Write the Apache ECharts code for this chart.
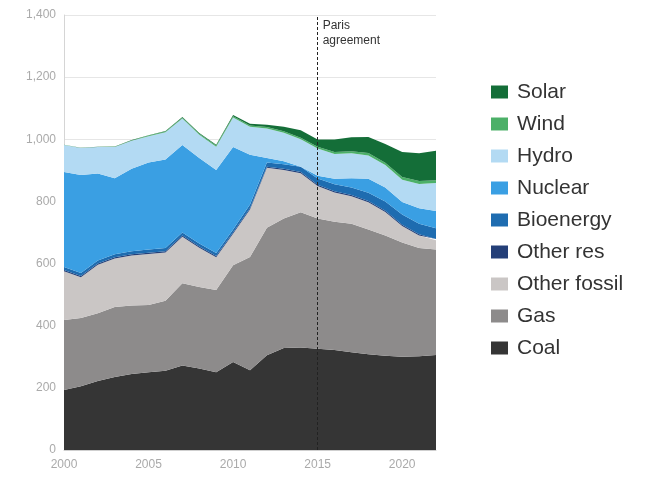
<!DOCTYPE html>
<html>
<head>
<meta charset="utf-8">
<script src="https://cdn.jsdelivr.net/npm/echarts@6/dist/echarts.min.js"></script>
<style>
html,body{margin:0;padding:0;background:#fff;}
#chart{width:648px;height:478px;}
</style>
</head>
<body>
<div id="chart"></div>
<script>
const years = ['2000','2001','2002','2003','2004','2005','2006','2007','2008','2009','2010','2011','2012','2013','2014','2015','2016','2017','2018','2019','2020','2021','2022'];
const coal        = [193,205,222,235,245,250,255,272,262,250,283,257,305,328,330,326,322,315,308,303,300,302,306];
const gas         = [225,220,218,225,220,217,225,265,263,265,312,364,410,417,435,419,413,413,402,387,368,348,339];
const otherFossil = [157,131,156,156,161,164,156,149,126,105,101,153,193,156,126,105,94,89,87,76,53,40,30];
const otherRes    = [4,4,4,4,4,4,4,4,4,4,4,4,4,4,4,4,4,4,4,4,4,4,4];
const bioenergy   = [10,10,10,10,10,10,10,10,10,10,10,12,13,15,17,20,22,24,27,30,33,34,35];
const nuclear     = [306,315,280,245,265,280,285,282,275,267,265,160,15,9,0,9,18,30,45,45,40,50,55];
const hydro       = [87,87,85,100,90,85,88,85,75,75,95,90,95,92,88,87,80,80,75,72,72,78,90];
const wind        = [0.1,0.3,0.5,1,1.3,1.8,2.2,2.6,2.9,3.6,4,4.6,4.8,5,5.2,5.6,6,6.5,7.5,7.7,9,9.4,9.5];
const solar       = [0.3,0.4,0.6,0.9,1.2,1.5,1.8,2,2.3,2.8,3.8,5.2,7,14,24,24,40,45,52,60,80,90,95];
const yTicks = [0,200,400,600,800,1000,1200,1400];
const xTicks = ['2000','2005','2010','2015','2020'];
const legendOrder = ['Solar','Wind','Hydro','Nuclear','Bioenergy','Other res','Other fossil','Gas','Coal'];
const parisYear = '2015';
const parisLabel = 'Paris\nagreement';

const stackDefs = [
  ['Coal', coal, '#353535'],
  ['Gas', gas, '#8d8b8b'],
  ['Other fossil', otherFossil, '#cac6c5'],
  ['Other res', otherRes, '#243f78'],
  ['Bioenergy', bioenergy, '#1e6cb0'],
  ['Nuclear', nuclear, '#3a9fe3'],
  ['Hydro', hydro, '#b3daf3'],
  ['Wind', wind, '#4cb068'],
  ['Solar', solar, '#146e38']
];

const font = 'Liberation Sans, Arial, sans-serif';
const chart = echarts.init(document.getElementById('chart'));

const series = stackDefs.map(([name, arr, color], idx) => {
  const s = {
    name: name,
    type: 'line',
    stack: 'total',
    data: arr,
    symbol: 'none',
    showSymbol: false,
    lineStyle: { width: 0, color: color },
    itemStyle: { color: color },
    areaStyle: { color: color, opacity: 1 },
    animation: false
  };
  if (idx === stackDefs.length - 1) {
    s.markLine = {
      silent: true,
      symbol: 'none',
      animation: false,
      label: { show: false },
      lineStyle: { color: '#222', width: 1, type: [3, 2] },
      data: [{ xAxis: parisYear }]
    };
  }
  return s;
});

chart.setOption({
  animation: false,
  textStyle: { fontFamily: font },
  grid: { left: 64, right: 212, top: 15, bottom: 28, containLabel: false },
  xAxis: {
    type: 'category',
    data: years,
    boundaryGap: false,
    axisLine: { show: true, lineStyle: { color: '#cfcfcf' } },
    axisTick: { show: false },
    splitLine: { show: false },
    axisLabel: {
      color: '#aaaaaa', fontSize: 12, margin: 9, fontFamily: font,
      interval: (i, v) => xTicks.includes(v)
    }
  },
  yAxis: {
    type: 'value',
    min: 0,
    max: 1400,
    interval: 200,
    axisLine: { show: true, lineStyle: { color: '#d5d5d5' } },
    axisTick: { show: false },
    splitLine: { show: true, lineStyle: { color: '#e6e6e6', width: 1 } },
    axisLabel: {
      color: '#aaaaaa', fontSize: 12, margin: 8, fontFamily: font,
      formatter: v => yTicks.includes(v) ? v.toLocaleString('en-US') : ''
    }
  },
  legend: {
    data: legendOrder,
    orient: 'vertical',
    left: 486,
    top: 76,
    icon: 'rect',
    itemWidth: 17,
    itemHeight: 13,
    itemGap: 10,
    selectedMode: false,
    textStyle: { fontSize: 21, lineHeight: 22, color: '#333', fontFamily: font, padding: [0, 0, 0, 4] }
  },
  series: series
});

const px = chart.convertToPixel({ xAxisIndex: 0 }, parisYear);
chart.setOption({
  graphic: [{
    type: 'text',
    left: px + 5,
    top: 18,
    silent: true,
    style: { text: parisLabel, fontSize: 12, lineHeight: 15, fill: '#333', fontFamily: font }
  }]
});
</script>
</body>
</html>
